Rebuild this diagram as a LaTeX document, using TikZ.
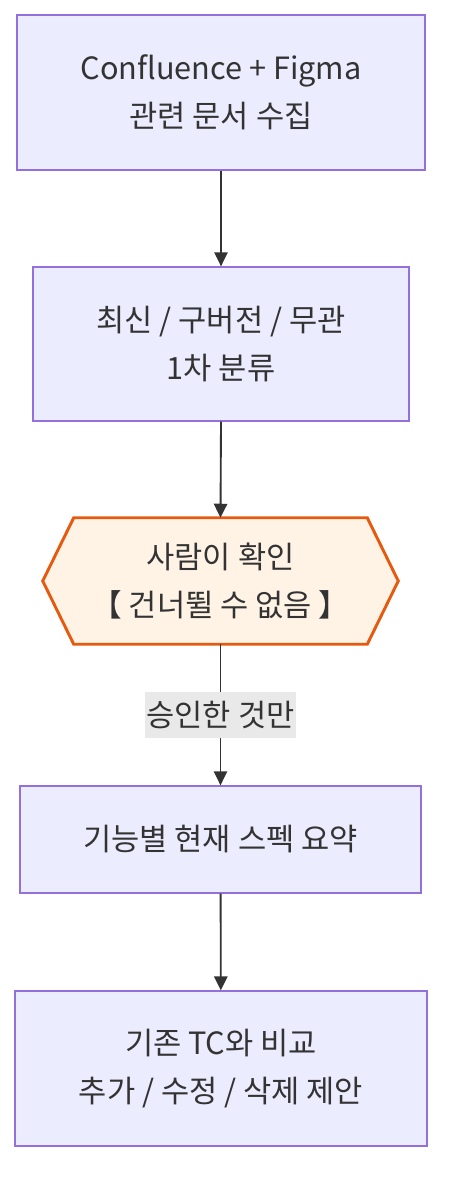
\documentclass[tikz,border=0pt]{standalone}
\usepackage{fontspec}
\setmainfont{Noto Sans CJK KR}
\usepackage{tikz}
\usetikzlibrary{arrows.meta,backgrounds}
\definecolor{boxfill}{HTML}{ECECFF}
\definecolor{boxline}{HTML}{9370DB}
\definecolor{hexfill}{HTML}{FFF3E6}
\definecolor{hexline}{HTML}{E65A0F}
\definecolor{ink}{HTML}{333333}
\definecolor{lblfill}{HTML}{E9E9E9}
\begin{document}
\begin{tikzpicture}[x=0.75pt,y=-0.75pt,
  every node/.style={text=ink,font=\fontsize{23pt}{36pt}\selectfont,align=center},
  procbox/.style={draw=boxline,fill=boxfill,line width=1pt,rectangle},
  flow/.style={draw=ink,line width=1.4pt,-{Triangle[length=10.5pt,width=10pt]}},
  lbl/.style={fill=lblfill,minimum height=34.5pt,inner xsep=1pt,inner ysep=0pt}]
                 \useasboundingbox (0,0) rectangle (458,1200);
                 \node[procbox,minimum width=306pt,minimum height=116.25pt](collect)at(221,92.5){Confluence + Figma\\관련 문서 수집};
                 \node[procbox,minimum width=282pt,minimum height=115.5pt](sort)at(221,344){최신 / 구버전 / 무관\\1차 분류};
                 \node[minimum width=266.25pt,minimum height=94.5pt,inner sep=0pt](check)at(220.5,581){사람이 확인\\【 건너뛸 수 없음 】};
                 \begin{scope}[on background layer]
                 \draw[draw=hexline,fill=hexfill,line width=2.2pt,line join=miter](check.west)--([xshift=23.25pt]check.north west)--([xshift=-23.25pt]check.north east)--(check.east)--([xshift=-23.25pt]check.south east)--([xshift=23.25pt]check.south west)--cycle;
                 \end{scope}
                 \node[procbox,minimum width=300.75pt,minimum height=80.25pt](spec)at(220.5,839.5){기능별 현재 스펙 요약};
                 \node[procbox,minimum width=309pt,minimum height=116.25pt](compare)at(221,1068.5){기존 TC와 비교\\추가 / 수정 / 삭제 제안};
                 \draw[flow](collect)--(sort);
                 \draw[flow](sort.south)--(check.north);
                 \draw[flow](check.south)--node[lbl]{승인한 것만}(spec.north);
                 \draw[flow](spec)--(compare);
               \end{tikzpicture}
\end{document}
